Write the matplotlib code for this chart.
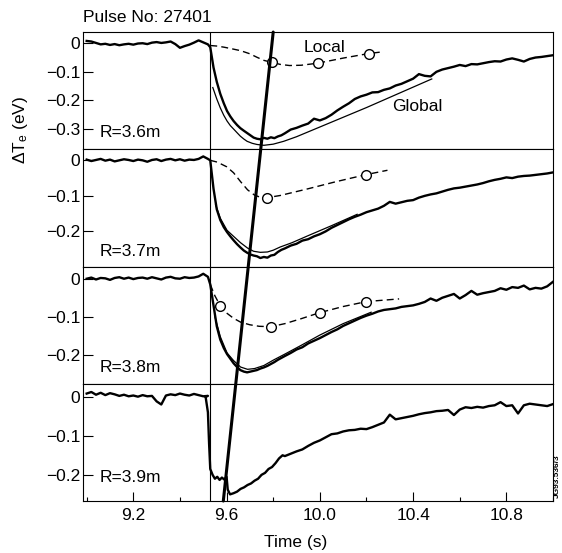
import numpy as np
import matplotlib

matplotlib.use("Agg")
import matplotlib.pyplot as plt
from matplotlib.patches import ConnectionPatch
from matplotlib.ticker import FuncFormatter, MultipleLocator

plt.rcParams["font.family"] = ["Liberation Sans", "DejaVu Sans"]
plt.rcParams["mathtext.fontset"] = "custom"
plt.rcParams["mathtext.rm"] = "Liberation Sans"
plt.rcParams["mathtext.it"] = "Liberation Sans"

FS = 12.5

# sampling grids shared by the measured traces (s)
T_EARLY = np.round(np.arange(9.0, 9.5201, 0.02), 3)
T_LATE = np.round(np.arange(9.85, 11.0001, 0.025), 3)
T_DROP = [9.53, 9.544, 9.558, 9.573, 9.588, 9.602, 9.616, 9.63, 9.645, 9.659, 9.674,
          9.688, 9.702, 9.716, 9.73, 9.745, 9.76, 9.775, 9.79, 9.805, 9.82, 9.835]
T_DROP_39 = [9.51, 9.52, 9.525, 9.53, 9.54, 9.55, 9.56, 9.57, 9.58, 9.59, 9.60, 9.605,
             9.615, 9.63, 9.645, 9.66, 9.675, 9.69, 9.705, 9.72, 9.735, 9.75, 9.765,
             9.78, 9.795, 9.81, 9.825, 9.84]

PULSE = "Pulse No: 27401"
RADII = ["R=3.6m", "R=3.7m", "R=3.8m", "R=3.9m"]
T_PELLET = 9.53
FRONT_T = [9.80, 9.586]  # thick line: time at top of first panel, bottom of last

# R = 3.6 m
V36_EARLY = [0.008, 0.006, 0.001, -0.004, -0.002, -0.006, -0.003, -0.007, -0.004, -0.002,
             -0.005, -0.001, 0.000, -0.003, 0.002, 0.004, 0.001, 0.003, 0.006, -0.003,
             -0.016, -0.010, -0.005, 0.002, 0.010, 0.003, -0.004]
V36_DROP = [-0.014, -0.085, -0.135, -0.177, -0.21, -0.237, -0.256, -0.272, -0.286, -0.297,
            -0.306, -0.314, -0.322, -0.33, -0.334, -0.336, -0.331, -0.334, -0.329, -0.332,
            -0.326, -0.322]
V36_LATE = [-0.315, -0.302, -0.296, -0.288, -0.281, -0.264, -0.27, -0.262, -0.25, -0.235,
            -0.222, -0.21, -0.195, -0.186, -0.18, -0.172, -0.171, -0.163, -0.158, -0.148,
            -0.142, -0.133, -0.124, -0.108, -0.114, -0.116, -0.1, -0.092, -0.087, -0.082,
            -0.076, -0.08, -0.073, -0.074, -0.07, -0.066, -0.063, -0.064, -0.057, -0.053,
            -0.058, -0.064, -0.055, -0.05, -0.048, -0.045, -0.042]
G36_T = [9.541, 9.558, 9.573, 9.588, 9.602, 9.616, 9.63, 9.645, 9.659, 9.674, 9.688,
         9.71, 9.73, 9.76, 9.80, 9.845, 9.90, 10.0, 10.2, 10.48]
G36_V = [-0.155, -0.195, -0.226, -0.252, -0.272, -0.288, -0.30, -0.313, -0.325, -0.335,
         -0.343, -0.35, -0.354, -0.357, -0.353, -0.343, -0.327, -0.293, -0.225, -0.125]
L36_T = [9.53, 9.56, 9.59, 9.62, 9.66, 9.70, 9.73, 9.76, 9.795, 9.83, 9.87, 9.92, 9.99,
         10.1, 10.21, 10.27]
L36_V = [-0.008, -0.01, -0.014, -0.019, -0.026, -0.037, -0.049, -0.06, -0.067, -0.074,
         -0.078, -0.077, -0.07, -0.052, -0.036, -0.03]
M36_T = [9.795, 9.99, 10.21]
M36_V = [-0.067, -0.07, -0.036]

# R = 3.7 m
V37_EARLY = [0.002, -0.002, 0.001, 0.004, -0.001, 0.002, -0.003, 0.0, 0.003, 0.001,
             -0.002, 0.002, 0.0, -0.004, 0.001, 0.003, -0.002, 0.002, 0.004, 0.0,
             0.003, -0.001, 0.002, 0.001, 0.004, 0.011, 0.004]
V37_DROP = [0.0, -0.08, -0.138, -0.168, -0.188, -0.202, -0.214, -0.225, -0.236, -0.245,
            -0.254, -0.26, -0.265, -0.268, -0.27, -0.275, -0.272, -0.274, -0.268, -0.266,
            -0.258, -0.252]
V37_LATE = [-0.248, -0.24, -0.235, -0.226, -0.222, -0.214, -0.208, -0.2, -0.19, -0.182,
            -0.174, -0.166, -0.159, -0.153, -0.146, -0.141, -0.136, -0.128, -0.117, -0.122,
            -0.118, -0.114, -0.112, -0.105, -0.1, -0.096, -0.093, -0.088, -0.083, -0.079,
            -0.077, -0.074, -0.071, -0.068, -0.064, -0.059, -0.055, -0.052, -0.048, -0.05,
            -0.046, -0.044, -0.043, -0.041, -0.039, -0.037, -0.034]
G37_T = [9.553, 9.573, 9.602, 9.63, 9.66, 9.69, 9.716, 9.745, 9.775, 9.80, 9.83, 9.88,
         9.95, 10.05, 10.16]
G37_V = [-0.125, -0.163, -0.197, -0.214, -0.232, -0.247, -0.256, -0.259, -0.258, -0.253,
         -0.244, -0.232, -0.212, -0.184, -0.152]
L37_T = [9.53, 9.56, 9.60, 9.63, 9.66, 9.69, 9.72, 9.745, 9.775, 9.83, 9.95, 10.07,
         10.2, 10.29]
L37_V = [0.0, -0.005, -0.018, -0.035, -0.06, -0.083, -0.098, -0.104, -0.105, -0.099,
         -0.08, -0.06, -0.04, -0.028]
M37_T = [9.775, 10.2]
M37_V = [-0.105, -0.04]

# R = 3.8 m
V38_EARLY = [0.0, 0.003, -0.002, 0.002, 0.001, -0.003, 0.002, 0.004, 0.0, 0.003,
             -0.001, 0.002, 0.003, 0.0, 0.004, 0.001, -0.002, 0.003, 0.005, 0.001,
             0.0, 0.004, 0.002, 0.003, 0.006, 0.013, 0.005]
V38_DROP = [-0.015, -0.07, -0.125, -0.16, -0.182, -0.198, -0.21, -0.222, -0.232, -0.24,
            -0.244, -0.246, -0.244, -0.242, -0.24, -0.236, -0.233, -0.229, -0.224, -0.219,
            -0.213, -0.208]
V38_LATE = [-0.203, -0.195, -0.186, -0.18, -0.17, -0.163, -0.156, -0.148, -0.14, -0.133,
            -0.124, -0.117, -0.11, -0.103, -0.097, -0.092, -0.086, -0.082, -0.08, -0.078,
            -0.074, -0.072, -0.07, -0.066, -0.061, -0.052, -0.058, -0.05, -0.045, -0.04,
            -0.052, -0.043, -0.032, -0.042, -0.038, -0.035, -0.032, -0.025, -0.029, -0.022,
            -0.024, -0.018, -0.028, -0.024, -0.026, -0.02, -0.008]
G38_T = [9.55, 9.573, 9.602, 9.63, 9.66, 9.69, 9.72, 9.76, 9.80, 9.85, 9.92, 10.0,
         10.1, 10.22]
G38_V = [-0.1, -0.152, -0.195, -0.215, -0.232, -0.238, -0.236, -0.228, -0.214, -0.198,
         -0.175, -0.148, -0.118, -0.088]
L38_T = [9.53, 9.55, 9.573, 9.60, 9.63, 9.66, 9.70, 9.74, 9.79, 9.85, 9.92, 10.0,
         10.1, 10.2, 10.34]
L38_V = [-0.015, -0.045, -0.071, -0.09, -0.104, -0.114, -0.121, -0.125, -0.126, -0.118,
         -0.105, -0.089, -0.073, -0.06, -0.053]
M38_T = [9.573, 9.79, 10.0, 10.2]
M38_V = [-0.071, -0.126, -0.089, -0.06]

# R = 3.9 m
V39_EARLY = [0.008, 0.012, 0.005, 0.01, 0.004, 0.009, 0.006, 0.002, 0.005, 0.001,
             0.003, 0.0, 0.004, 0.001, 0.002, -0.012, -0.02, 0.003, 0.006, 0.004,
             0.008, 0.005, 0.003, 0.007, 0.004, 0.001, 0.002]
V39_DROP = [0.0, -0.04, -0.12, -0.185, -0.2, -0.21, -0.205, -0.213, -0.207, -0.212,
            -0.205, -0.238, -0.25, -0.247, -0.243, -0.236, -0.232, -0.226, -0.222, -0.215,
            -0.21, -0.2, -0.195, -0.185, -0.18, -0.17, -0.158, -0.15]
V39_LATE = [-0.152, -0.146, -0.14, -0.135, -0.126, -0.118, -0.112, -0.104, -0.096, -0.094,
            -0.089, -0.086, -0.085, -0.082, -0.083, -0.078, -0.072, -0.066, -0.046, -0.058,
            -0.055, -0.052, -0.049, -0.045, -0.042, -0.04, -0.037, -0.036, -0.034, -0.047,
            -0.033, -0.027, -0.029, -0.026, -0.028, -0.024, -0.022, -0.014, -0.024, -0.022,
            -0.043, -0.022, -0.018, -0.02, -0.022, -0.024, -0.019]


def ytick_fmt(v, pos):
    if abs(v) < 1e-9:
        return "0"
    return "{:.1f}".format(v).replace("-", "\u2212")


def build_trace(early, drop_t, drop_v, late):
    t = np.concatenate([T_EARLY, drop_t, T_LATE])
    v = np.concatenate([early, drop_v, late])
    return t, v


def draw_panel(ax, trace, glob, local, marks, label, ylim, yticks, label_y):
    if glob is not None:
        ax.plot(glob[0], glob[1], color="black", lw=0.9, zorder=2)
    ax.plot(trace[0], trace[1], color="black", lw=1.7, zorder=3)
    if local is not None:
        ax.plot(local[0], local[1], color="black", lw=1.0, dashes=(5, 3), zorder=4)
        ax.plot(marks[0], marks[1], "o", ms=7, mfc="white", mec="black", mew=1.0,
                ls="none", zorder=5)
    ax.axvline(T_PELLET, color="black", lw=0.8, zorder=1)
    ax.set_ylim(*ylim)
    ax.set_yticks(yticks)
    ax.yaxis.set_major_formatter(FuncFormatter(ytick_fmt))
    ax.tick_params(axis="y", direction="in", length=7, width=0.8, pad=2, labelsize=FS)
    ax.tick_params(axis="x", which="both", bottom=False, top=False, labelbottom=False)
    for sp in ax.spines.values():
        sp.set_linewidth(0.8)
    ax.text(0.036, label_y, label, transform=ax.transAxes, ha="left", va="center",
            fontsize=FS)


def main():
    fig = plt.figure(figsize=(5.62, 5.53), dpi=100)
    axes = fig.subplots(4, 1, sharex=True)
    fig.subplots_adjust(left=0.148, right=0.984, top=0.942, bottom=0.094, hspace=0)

    panels = [
        (build_trace(V36_EARLY, T_DROP, V36_DROP, V36_LATE), (G36_T, G36_V),
         (L36_T, L36_V), (M36_T, M36_V), (-0.371, 0.039), [0, -0.1, -0.2, -0.3], 0.143),
        (build_trace(V37_EARLY, T_DROP, V37_DROP, V37_LATE), (G37_T, G37_V),
         (L37_T, L37_V), (M37_T, M37_V), (-0.299, 0.031), [0, -0.1, -0.2], 0.128),
        (build_trace(V38_EARLY, T_DROP, V38_DROP, V38_LATE), (G38_T, G38_V),
         (L38_T, L38_V), (M38_T, M38_V), (-0.276, 0.032), [0, -0.1, -0.2], 0.141),
        (build_trace(V39_EARLY, T_DROP_39, V39_DROP, V39_LATE), None,
         None, None, (-0.267, 0.033), [0, -0.1, -0.2], 0.197),
    ]
    for ax, label, (trace, glob, local, marks, ylim, yticks, ly) in zip(axes, RADII, panels):
        draw_panel(ax, trace, glob, local, marks, label, ylim, yticks, ly)

    ax1, ax4 = axes[0], axes[-1]
    ax4.set_xlim(8.985, 11.0)
    ax4.xaxis.set_major_locator(MultipleLocator(0.4))
    ax4.xaxis.set_minor_locator(MultipleLocator(0.2))
    ax4.xaxis.set_major_formatter(FuncFormatter(lambda v, p: "{:.1f}".format(v)))
    ax4.tick_params(axis="x", which="both", bottom=True, labelbottom=True, direction="in",
                    width=0.8, pad=5, labelsize=FS)
    ax4.tick_params(axis="x", which="major", length=6.5)
    ax4.tick_params(axis="x", which="minor", length=3)

    ax1.text(10.02, -0.015, "Local", ha="center", va="center", fontsize=FS)
    ax1.text(10.42, -0.22, "Global", ha="center", va="center", fontsize=FS)
    ax1.text(0.0, 1.085, PULSE, transform=ax1.transAxes, ha="left", va="baseline",
             fontsize=FS)

    front = ConnectionPatch(xyA=(FRONT_T[0], 1.0), coordsA=ax1.get_xaxis_transform(),
                            xyB=(FRONT_T[1], 0.0), coordsB=ax4.get_xaxis_transform(),
                            color="black", lw=2.2, zorder=10)
    fig.add_artist(front)

    fig.text(0.036, 1 - 130 / 553, "\u0394T$_\\mathrm{e}$ (eV)", rotation=90,
             ha="center", va="center", fontsize=FS)
    fig.text(296 / 562, 1 - 542 / 553, "Time (s)", ha="center", va="center", fontsize=FS)
    fig.text(557 / 562, 1 - 476 / 553, "JG93.536/3", rotation=90, ha="center",
             va="center", fontsize=6, fontweight="bold")

    fig.savefig("out.png", dpi=100)
    plt.close(fig)


if __name__ == "__main__":
    main()
